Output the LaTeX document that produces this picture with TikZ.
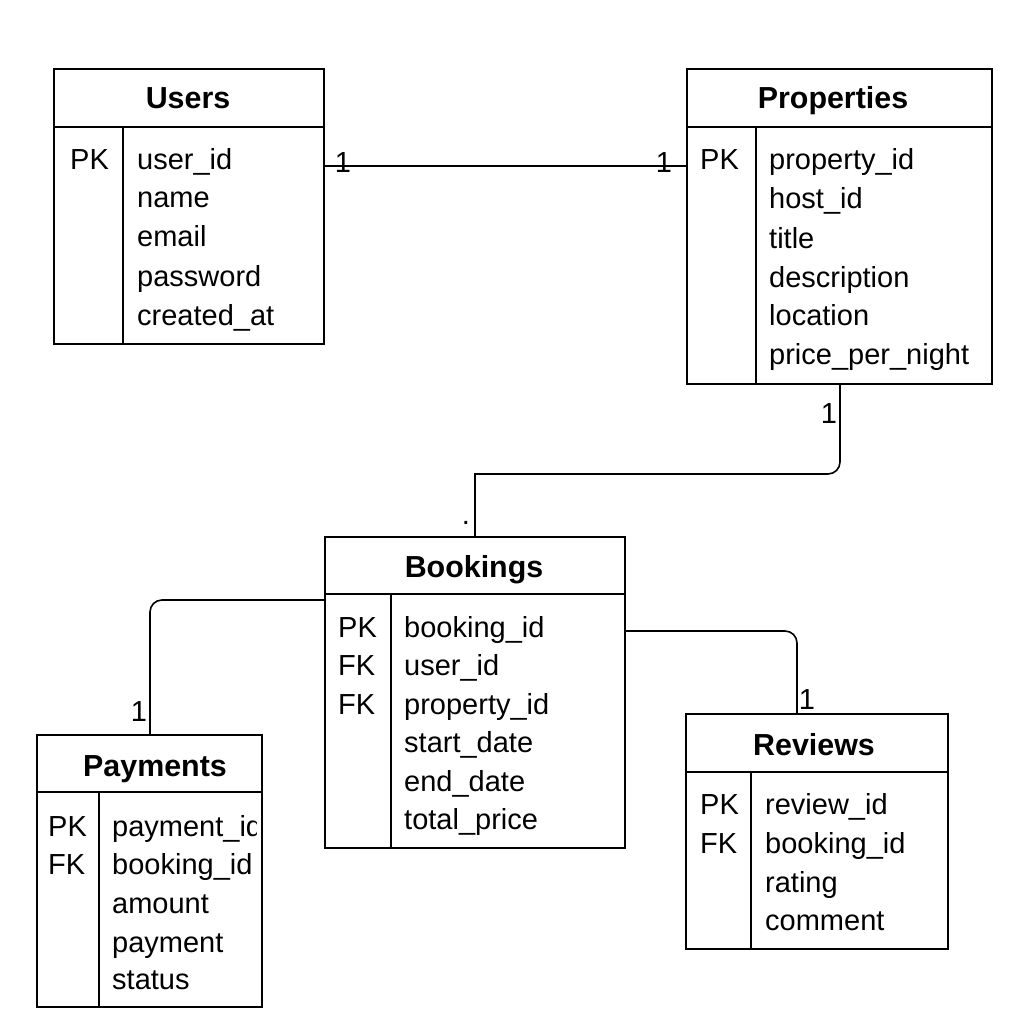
\documentclass[tikz,border=0pt]{standalone}
\usepackage{fontspec}
\setmainfont{Liberation Sans}
\begin{document}
\begin{tikzpicture}[x=1pt,y=-1pt,
  tbl/.style={draw, line width=1.6pt, anchor=north west, inner sep=0pt},
  ln/.style={line width=1.6pt},
  conn/.style={line width=1.6pt, rounded corners=12pt},
  hdr/.style={font=\fontsize{30.4}{36}\selectfont\bfseries, inner sep=0pt, anchor=base},
  fld/.style={font=\fontsize{29}{35}\selectfont, inner sep=0pt, anchor=base west},
  card/.style={font=\fontsize{29}{35}\selectfont, inner sep=0pt}
]
\useasboundingbox (0,0) rectangle (1024,1024);
\fill[white] (0,0) rectangle (1024,1024);

% ---------- Users ----------
\node[tbl, minimum width=270pt, minimum height=275pt] (users) at (53,68) {};
\draw[ln] (53,127) -- (323,127);
\draw[ln] (123,127) -- (123,343);
\node[hdr] (usersh) at (188,109) {Users};
\node[fld] (u1k) at (70,170) {PK};
\node[fld] (u1) at (137,170) {user\_id};
\node[fld] (u2) at (137,208) {name};
\node[fld] (u3) at (137,247) {email};
\node[fld] (u4) at (137,286) {password};
\node[fld] (u5) at (137,325) {created\_at};

% ---------- Properties ----------
\node[tbl, minimum width=305pt, minimum height=315pt] (props) at (686,68) {};
\draw[ln] (686,127) -- (991,127);
\draw[ln] (756,127) -- (756,383);
\node[hdr] (propsh) at (833,109) {Properties};
\node[fld] (p1k) at (700,170) {PK};
\node[fld] (p1) at (769,170) {property\_id};
\node[fld] (p2) at (769,209) {host\_id};
\node[fld] (p3) at (769,248) {title};
\node[fld] (p4) at (769,287) {description};
\node[fld] (p5) at (769,325) {location};
\node[fld] (p6) at (769,364) {price\_per\_night};

% ---------- Bookings ----------
\node[tbl, minimum width=300pt, minimum height=311pt] (book) at (324,536) {};
\draw[ln] (324,594) -- (624,594);
\draw[ln] (391,594) -- (391,847);
\node[hdr] (bookh) at (474,577) {Bookings};
\node[fld] (b1k) at (338,637) {PK};
\node[fld] (b2k) at (338,675) {FK};
\node[fld] (b3k) at (338,714) {FK};
\node[fld] (b1) at (404,637) {booking\_id};
\node[fld] (b2) at (404,675) {user\_id};
\node[fld] (b3) at (404,714) {property\_id};
\node[fld] (b4) at (404,752) {start\_date};
\node[fld] (b5) at (404,791) {end\_date};
\node[fld] (b6) at (404,829) {total\_price};

% ---------- Payments ----------
\node[tbl, minimum width=225pt, minimum height=272pt] (pay) at (36,734) {};
\draw[ln] (36,792) -- (261,792);
\draw[ln] (99,792) -- (99,1006);
\node[hdr] (payh) at (155,776) {Payments};
\node[fld] (y1k) at (48,836) {PK};
\node[fld] (y2k) at (48,874) {FK};
\begin{scope}
\clip (100,795) rectangle (256,1004);
\node[fld] (y1) at (112,836) {payment\_id};
\node[fld] (y2) at (112,874) {booking\_id};
\end{scope}
\node[fld] (y3) at (112,913) {amount};
\node[fld] (y4) at (112,952) {payment};
\node[fld] (y5) at (112,989) {status};

% ---------- Reviews ----------
\node[tbl, minimum width=262pt, minimum height=235pt] (rev) at (685,713) {};
\draw[ln] (685,772) -- (947,772);
\draw[ln] (751,772) -- (751,948);
\node[hdr] (revh) at (814,755) {Reviews};
\node[fld] (r1k) at (700,814) {PK};
\node[fld] (r2k) at (700,853) {FK};
\node[fld] (r1) at (765,814) {review\_id};
\node[fld] (r2) at (765,853) {booking\_id};
\node[fld] (r3) at (765,892) {rating};
\node[fld] (r4) at (765,930) {comment};

% ---------- Connectors ----------
\draw[ln] (users.east |- 0,166) -- (props.west |- 0,166);
\node[card] (c1) at (343,163) {1};
\node[card] (c2) at (664,163) {1};

\draw[conn] (props.south -| 840,0) -- (840,474) -- (600,474);
\draw[ln] (620,474) -- (475,474) -- (book.north -| 475,0);
\node[card] (c3) at (829,414) {1};
\node[card, anchor=base] (c4) at (466,524) {.};

\draw[conn] (book.west |- 0,600) -- (150,600) -- (pay.north -| 150,0);
\node[card] (c5) at (139,712) {1};

\draw[conn] (book.east |- 0,631) -- (797,631) -- (rev.north -| 797,0);
\node[card] (c6) at (807,700) {1};
\end{tikzpicture}
\end{document}
